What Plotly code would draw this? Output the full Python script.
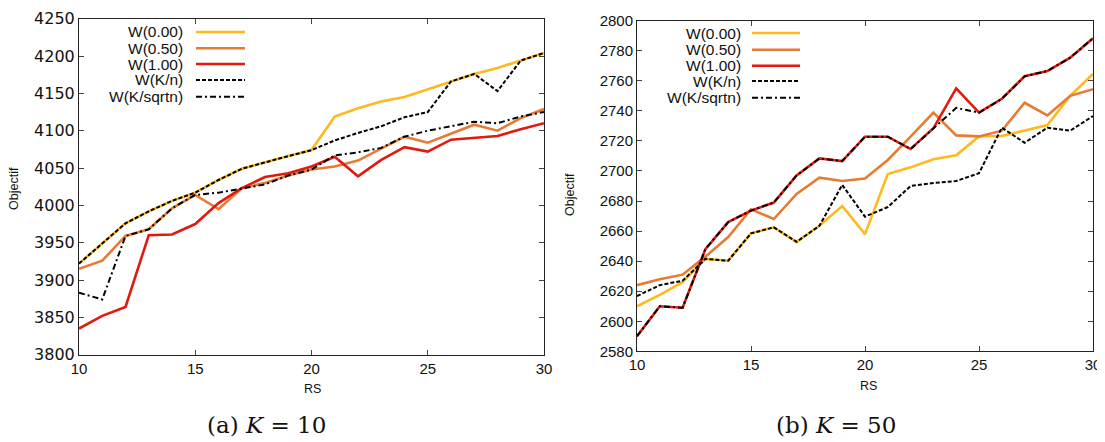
import plotly.graph_objects as go

W, H = 1105, 442
OFF = 8  # default page body margin of the html page
FW, FH = W - OFF, H - OFF

rs = list(range(10, 31))

series_names = ["W(0.00)", "W(0.50)", "W(1.00)", "W(K/n)", "W(K/sqrtn)"]

# K = 10
w000_k10 = [3922, 3949, 3976, 3992, 4006, 4017, 4034, 4049, 4058, 4066, 4074, 4119, 4130, 4139, 4145, 4155, 4166, 4176, 4184, 4194, 4204]
w050_k10 = [3915, 3926, 3959, 3968, 3996, 4014, 3995, 4023, 4030, 4040, 4048, 4052, 4060, 4076, 4092, 4084, 4096, 4108, 4100, 4117, 4129]
w100_k10 = [3835, 3852, 3864, 3960, 3961, 3975, 4003, 4023, 4038, 4043, 4052, 4065, 4039, 4061, 4078, 4072, 4088, 4090, 4093, 4102, 4110]
wkn_k10 = [3922, 3949, 3976, 3992, 4006, 4017, 4034, 4049, 4058, 4066, 4074, 4087, 4097, 4106, 4118, 4125, 4166, 4176, 4153, 4194, 4204]
wksq_k10 = [3883, 3874, 3959, 3968, 3996, 4014, 4017, 4022, 4028, 4040, 4048, 4067, 4071, 4077, 4092, 4100, 4106, 4112, 4110, 4119, 4125]

# K = 50
w000_k50 = [2610, 2617.5, 2626, 2641.5, 2640.3, 2658.5, 2662.5, 2652.8, 2663.5, 2676.7, 2658, 2698, 2702.4, 2707.8, 2710.4, 2723, 2723.3, 2726.8, 2730.6, 2750, 2764.5]
w050_k50 = [2624, 2628, 2631, 2643, 2656, 2674.5, 2668, 2684.7, 2695.5, 2693.3, 2695, 2707.3, 2722.8, 2738.8, 2723.7, 2723, 2726.8, 2745.4, 2737, 2750, 2754.4]
w100_k50 = [2590, 2610, 2609, 2648, 2666, 2673.6, 2679, 2697, 2708.4, 2706.6, 2722.8, 2722.8, 2714.6, 2728.4, 2755, 2738.8, 2748, 2763, 2766.5, 2775.4, 2788.3]
wkn_k50 = [2616.8, 2624, 2627, 2641.5, 2640.3, 2658.5, 2662.5, 2652.8, 2663.5, 2690.7, 2669.6, 2676, 2690, 2692, 2693.3, 2698.5, 2728.8, 2718.8, 2728.8, 2726.8, 2736.6]
wksq_k50 = [2590, 2610, 2609, 2648, 2666, 2673.6, 2679, 2697, 2708.4, 2706.6, 2722.8, 2722.8, 2714.6, 2728.4, 2742, 2738.8, 2748, 2763, 2766.5, 2775.4, 2788.3]

x_ticks = [10, 15, 20, 25, 30]
y_ticks_k10 = list(range(3800, 4251, 50))
y_ticks_k50 = list(range(2580, 2801, 20))

captions = ["(a) <i>K</i> = 10", "(b) <i>K</i> = 50"]

colors = ["#FFB81E", "#E87B34", "#E01A0E", "#000000", "#000000"]
dashes = ["solid", "solid", "solid", "4px,2px", "6px,3px,2px,3px"]
widths = [2.6, 2.6, 2.6, 2.0, 2.0]

fig = go.Figure()

data_sets = [
    ([w000_k10, w050_k10, w100_k10, wkn_k10, wksq_k10], "x", "y"),
    ([w000_k50, w050_k50, w100_k50, wkn_k50, wksq_k50], "x2", "y2"),
]
for vals, xa, ya in data_sets:
    for i, v in enumerate(vals):
        fig.add_trace(go.Scatter(
            x=rs, y=v, mode="lines", name=series_names[i], xaxis=xa, yaxis=ya,
            line=dict(color=colors[i], width=widths[i], dash=dashes[i]),
            showlegend=False,
        ))

def px(x):
    return (x - OFF) / FW

def py(y):
    return 1 - (y - OFF) / FH

axis_common = dict(
    showline=True, linecolor="#222222", linewidth=1, mirror="ticks",
    ticks="inside", ticklen=5, tickcolor="#444444", showgrid=False, zeroline=False,
    automargin=False,
)

tick_font = dict(family="Liberation Sans, Arial, sans-serif", size=15, color="#111111")
tick_font_wide = dict(family="DejaVu Sans, sans-serif", size=16, color="#111111")

fig.update_layout(
    width=FW, height=FH,
    margin=dict(l=0, r=0, t=0, b=0),
    paper_bgcolor="white", plot_bgcolor="white",
    xaxis=dict(domain=[px(79), px(544)], range=[10, 30], tickvals=x_ticks, anchor="y",
               tickfont=tick_font, **axis_common),
    yaxis=dict(domain=[py(354.7), py(18.7)], range=[3800, 4250], tickvals=y_ticks_k10, anchor="x",
               tickfont=tick_font_wide, **axis_common),
    xaxis2=dict(domain=[px(637), px(1093)], range=[10, 30], tickvals=x_ticks, anchor="y2",
                tickfont=tick_font, **axis_common),
    yaxis2=dict(domain=[py(351.3), py(20.7)], range=[2580, 2800], tickvals=y_ticks_k50, anchor="x2",
                tickfont=tick_font, **axis_common),
)

annotations = []
shapes = []
label_font = dict(family="Liberation Sans, Arial, sans-serif", size=12.5, color="#111111")

# axis titles
for (xc, yc) in [(313, 389), (868, 386)]:
    annotations.append(dict(x=px(xc), y=py(yc), xref="paper", yref="paper", text="RS",
                            showarrow=False, xanchor="center", yanchor="middle", font=label_font))
for (xc, yc) in [(14, 189), (570, 195)]:
    annotations.append(dict(x=px(xc), y=py(yc), xref="paper", yref="paper", text="Objectif",
                            showarrow=False, xanchor="center", yanchor="middle", textangle=-90,
                            font=label_font))

# captions
for cap, xc in zip(captions, [266, 836]):
    annotations.append(dict(x=px(xc), y=py(425), xref="paper", yref="paper", text=cap,
                            showarrow=False, xanchor="center", yanchor="middle",
                            font=dict(family="DejaVu Serif, serif", size=23, color="#111111")))

# legends (gnuplot style: text right-aligned, then sample)
legend_font = dict(family="Liberation Sans, Arial, sans-serif", size=15.5, color="#111111")
legend_specs = [
    (185, 196, 245, [32, 48.3, 64, 80, 96.7]),
    (743, 752, 800, [33, 49.7, 65.7, 81, 97.7]),
]
for tx, lx0, lx1, rows in legend_specs:
    for i, name in enumerate(series_names):
        annotations.append(dict(x=px(tx), y=py(rows[i]), xref="paper", yref="paper", text=name,
                                showarrow=False, xanchor="right", yanchor="middle", font=legend_font))
        shapes.append(dict(type="line", xref="paper", yref="paper",
                           x0=px(lx0), x1=px(lx1), y0=py(rows[i]), y1=py(rows[i]),
                           line=dict(color=colors[i], width=widths[i], dash=dashes[i])))

fig.update_layout(annotations=annotations, shapes=shapes)

fig.write_html("out.html")
